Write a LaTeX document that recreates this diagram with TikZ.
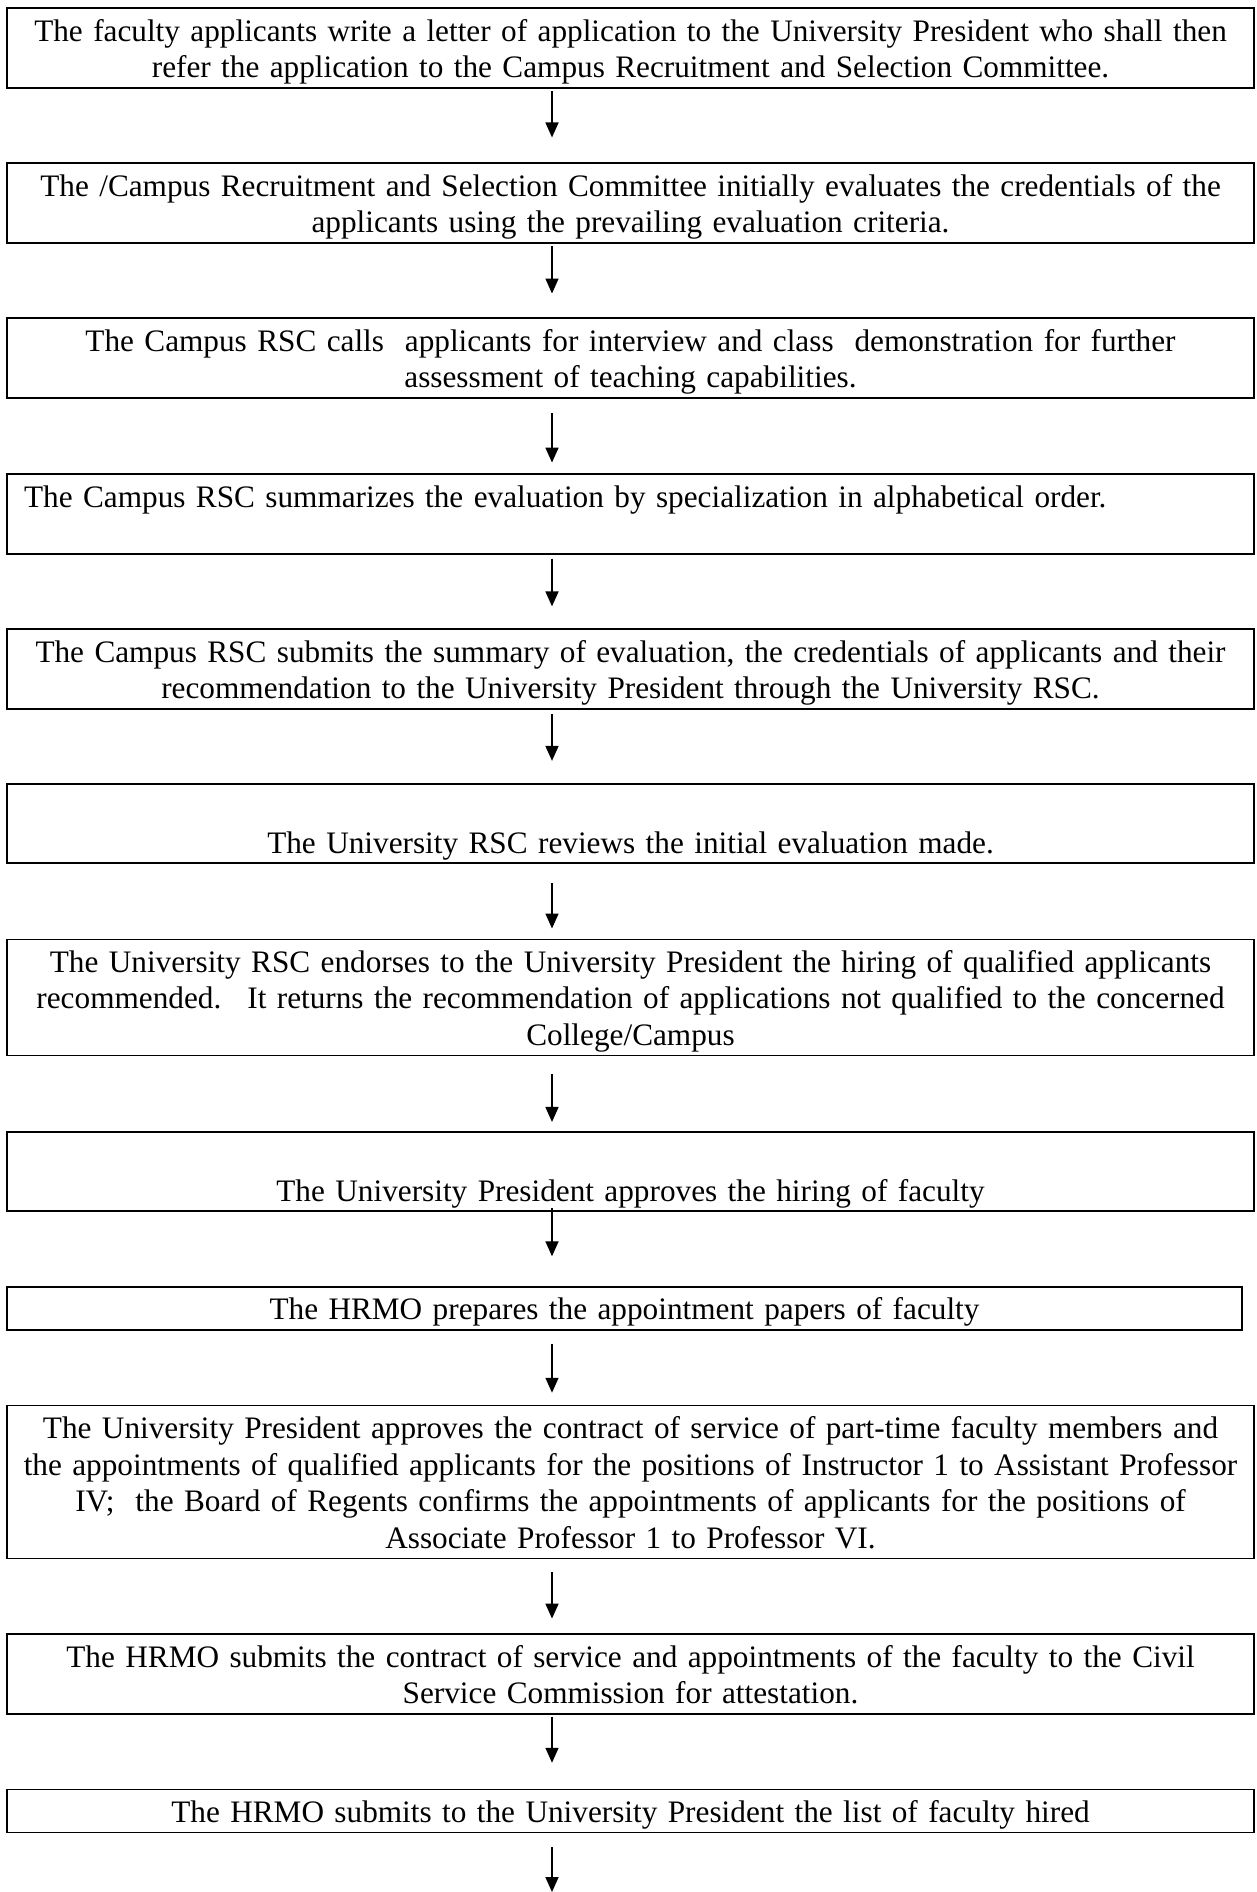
\documentclass[tikz,border=0pt]{standalone}
\usepackage{fontspec}
\setmainfont{Liberation Serif}
\usetikzlibrary{arrows.meta}
\begin{document}
\begin{tikzpicture}[x=0.375pt,y=-0.375pt,
  stepbox/.style={draw, line width=0.6pt, inner xsep=3pt, inner ysep=1.1pt,
    text width=461.6pt, align=center, font=\fontsize{11.72}{13.8}\selectfont,
    execute at begin node={\rule{0pt}{11.2pt}}, execute at end node={\rule[-2.6pt]{0pt}{2.6pt}}},
  flowarrow/.style={-{Triangle[length=5.6pt,width=4.9pt]}, line width=0.5pt}]
  \def\flow(#1)(#2)#3#4{%
    \draw[flowarrow, shorten <=#3, shorten >=#4] (#1.south -| ax) -- (#2.north -| ax);
  }

  \useasboundingbox (0,0) rectangle (1257,1892);
  \coordinate (ax) at (552,0);
  \coordinate (bottom) at (552,1892);

  \node[stepbox] (s1) at (630.5,48) {The faculty applicants write a letter of application to the University President who shall then\\
    refer the application to the Campus Recruitment and Selection Committee.};
  \node[stepbox] (s2) at (630.5,203) {The /Campus Recruitment and Selection Committee initially evaluates the credentials of the\\
    applicants using the prevailing evaluation criteria.};
  \node[stepbox] (s3) at (630.5,358) {The Campus RSC calls~ applicants for interview and class~ demonstration for further\\
    assessment of teaching capabilities.};
  \node[stepbox, align=left, inner xsep=6.4pt, text width=454.8pt] (s4) at (630.5,514) {The Campus RSC summarizes the evaluation by specialization in alphabetical order.\\};
  \node[stepbox] (s5) at (630.5,669) {The Campus RSC submits the summary of evaluation, the credentials of applicants and their\\
    recommendation to the University President through the University RSC.};
  \node[stepbox] (s6) at (630.5,823.5) {\\The University RSC reviews the initial evaluation made.};
  \node[stepbox] (s7) at (630.5,997.5) {The University RSC endorses to the University President the hiring of qualified applicants\\
    recommended.~ It returns the recommendation of applications not qualified to the concerned\\
    College/Campus};
  \node[stepbox] (s8) at (630.5,1171.5) {\\The University President approves the hiring of faculty};
  \node[stepbox, text width=457.1pt] (s9) at (624.5,1308.5) {The HRMO prepares the appointment papers of faculty};
  \node[stepbox] (s10) at (630.5,1482) {The University President approves the contract of service of part-time faculty members and\\
    the appointments of qualified applicants for the positions of Instructor 1 to Assistant Professor\\
    IV;~ the Board of Regents confirms the appointments of applicants for the positions of\\
    Associate Professor 1 to Professor VI.};
  \node[stepbox] (s11) at (630.5,1674) {The HRMO submits the contract of service and appointments of the faculty to the Civil\\
    Service Commission for attestation.};
  \node[stepbox] (s12) at (630.5,1811) {The HRMO submits to the University President the list of faculty hired};

  \flow(s1)(s2){1.1pt}{9.4pt}
  \flow(s2)(s3){1.1pt}{9pt}
  \flow(s3)(s4){5.6pt}{4.1pt}
  \flow(s4)(s5){1.5pt}{8.3pt}
  \flow(s5)(s6){1.5pt}{8.3pt}
  \flow(s6)(s7){7.1pt}{3.8pt}
  \flow(s7)(s8){6.4pt}{3.4pt}
  \flow(s8)(s9){-1.5pt}{11.3pt}
  \flow(s9)(s10){4.9pt}{4.5pt}
  \flow(s10)(s11){4.9pt}{5.6pt}
  \flow(s11)(s12){0.8pt}{9.8pt}
  \draw[flowarrow, shorten <=5.3pt] (s12.south -| ax) -- (bottom);
\end{tikzpicture}
\end{document}
